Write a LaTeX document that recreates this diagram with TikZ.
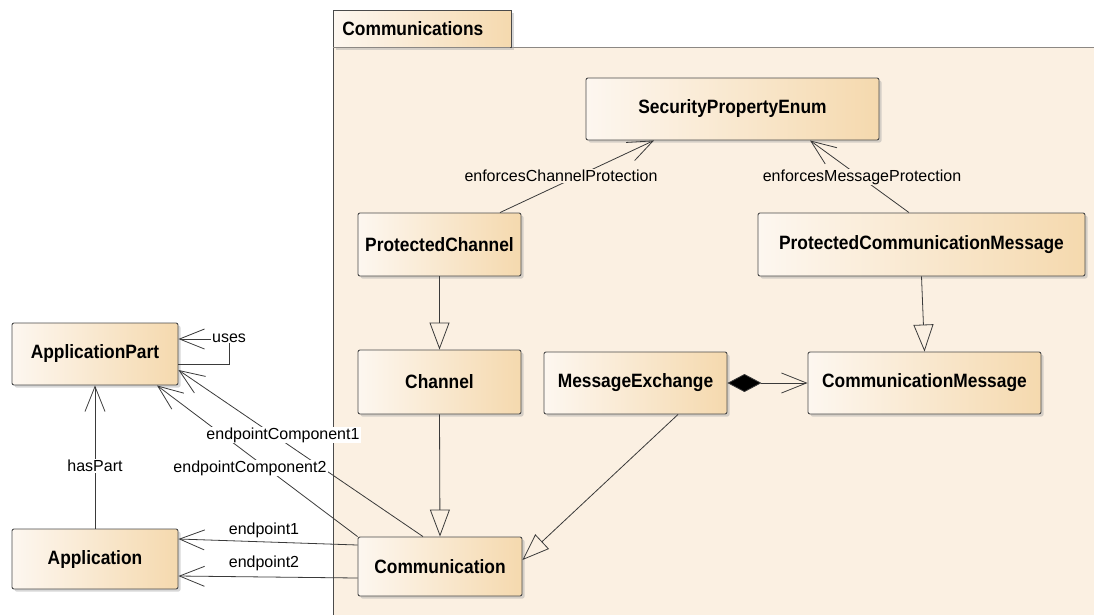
\documentclass[tikz,border=0pt]{standalone}
\usepackage{fontspec}
\setmainfont{Liberation Sans}
\newfontfamily\clsfont[FakeStretch=0.9]{Liberation Sans}
\usetikzlibrary{arrows.meta,shadows,calc}

\definecolor{pkgfill}{HTML}{FBF0E2}
\definecolor{boxL}{HTML}{FDF7F0}
\definecolor{boxR}{HTML}{F5D9AE}
\definecolor{edgec}{HTML}{4A4A4A}
\definecolor{linec}{HTML}{3A3A3A}
\definecolor{pkgtop}{HTML}{8C8884}

\begin{document}
\begin{tikzpicture}[x=1pt,y=-1pt,
  shadowed/.style={preaction={fill=black!35, opacity=0.45, transform canvas={shift={(2.5pt,-2.5pt)}}}},
  cls/.style={shadowed, draw=edgec, line width=0.9pt, rounded corners=2pt,
    left color=boxL, right color=boxR, text=black, inner sep=0pt,
    font=\clsfont\bfseries\fontsize{19.3}{21}\selectfont},
  conn/.style={draw=linec, line width=0.8pt},
  lbl/.style={font=\fontsize{16}{18}\selectfont, inner sep=1pt, text=black},
  assoc/.style={conn, -{Straight Barb[length=25pt,width=20pt,line width=0.8pt]}},
  gener/.style={conn, -{Triangle[open,length=27pt,width=20pt,line width=0.8pt]}},
  compo/.style={conn, {Diamond[length=34pt,width=18pt,fill=black]}-{Straight Barb[length=25pt,width=20pt,line width=0.8pt]}},
]
\useasboundingbox (0,0) rectangle (1094,614);
\clip (0,0) rectangle (1094,614);

% package frame
\fill[pkgfill] (333,47) rectangle (1110,630);
\draw[pkgtop, line width=1pt] (510,47) -- (1110,47);
\draw[edgec, line width=1pt] (333,630) -- (333,47);
\node[shadowed, draw=edgec, line width=0.9pt, left color=boxL, right color=boxR,
  anchor=north west, text width=160pt, inner xsep=9pt, inner ysep=0pt,
  minimum height=37pt, align=left, text=black,
  font=\clsfont\bfseries\fontsize{19.3}{21}\selectfont] (pkgtab) at (333,10) {Communications};
\draw[pkgtop, line width=1pt] (333,47) -- (510,47);

% classes
\node[cls, minimum width=293pt, minimum height=62pt] (spe)  at (732.5,109)   {SecurityPropertyEnum};
\node[cls, minimum width=163pt, minimum height=63pt] (pch)  at (439.5,244.5) {ProtectedChannel};
\node[cls, minimum width=327pt, minimum height=63pt] (pcm)  at (921.5,244.5) {ProtectedCommunicationMessage};
\node[cls, minimum width=163pt, minimum height=64pt] (chan) at (439.5,382)   {Channel};
\node[cls, minimum width=183pt, minimum height=62pt] (mex)  at (635.5,383)   {MessageExchange};
\node[cls, minimum width=233pt, minimum height=62pt] (cmsg) at (924.5,383)   {CommunicationMessage};
\node[cls, minimum width=164pt, minimum height=59pt] (comm) at (440,566.5)   {Communication};
\node[cls, minimum width=166pt, minimum height=62pt] (appp) at (95,354)      {ApplicationPart};
\node[cls, minimum width=166pt, minimum height=60pt] (app)  at (95,559)      {Application};

% associations inside the package
\draw[assoc] ([xshift=60.5pt]pch.north) -- ([xshift=-78.5pt]spe.south);
\draw[assoc] ([xshift=-12.5pt]pcm.north) -- ([xshift=77.5pt]spe.south);
\node[lbl, fill=pkgfill] (lcp) at (561,176) {enforcesChannelProtection};
\node[lbl, fill=pkgfill] (lmp) at (862,177) {enforcesMessageProtection};

% generalisations
\draw[gener] (pch.south) -- (chan.north);
\draw[gener] (pcm.south) -- (cmsg.north);
\draw[gener] (chan.south) -- (comm.north);
\draw[gener] ([xshift=42.5pt]mex.south) -- ([yshift=6.5pt]comm.east);

% composition
\draw[compo] (mex.east) -- (cmsg.west);

% associations to the application side
\draw[assoc] ([xshift=-17pt]comm.north) -- ([yshift=-16pt]appp.east);
\draw[assoc] (comm.north west) -- ([xshift=62pt]appp.south);
\draw[assoc] ([yshift=21.5pt]comm.west) -- ([yshift=20pt]app.east);
\draw[assoc] ([yshift=-11.5pt]comm.west) -- ([yshift=-17pt]app.east);
\draw[assoc] (app.north) -- (appp.south);
\draw[assoc] ([yshift=-10pt]appp.east) -- ++(51,0) |- ([yshift=15pt]appp.east);

\node[lbl, fill=white] (lec1) at (283,435) {endpointComponent1};
\node[lbl, fill=white] (lec2) at (250,468) {endpointComponent2};
\node[lbl] (le1) at (264,530) {endpoint1};
\node[lbl] (le2) at (264,563) {endpoint2};
\node[lbl, fill=white] (lhp) at (95,466) {hasPart};
\node[lbl, fill=white] (luse) at (229,338) {uses};
\end{tikzpicture}
\end{document}
